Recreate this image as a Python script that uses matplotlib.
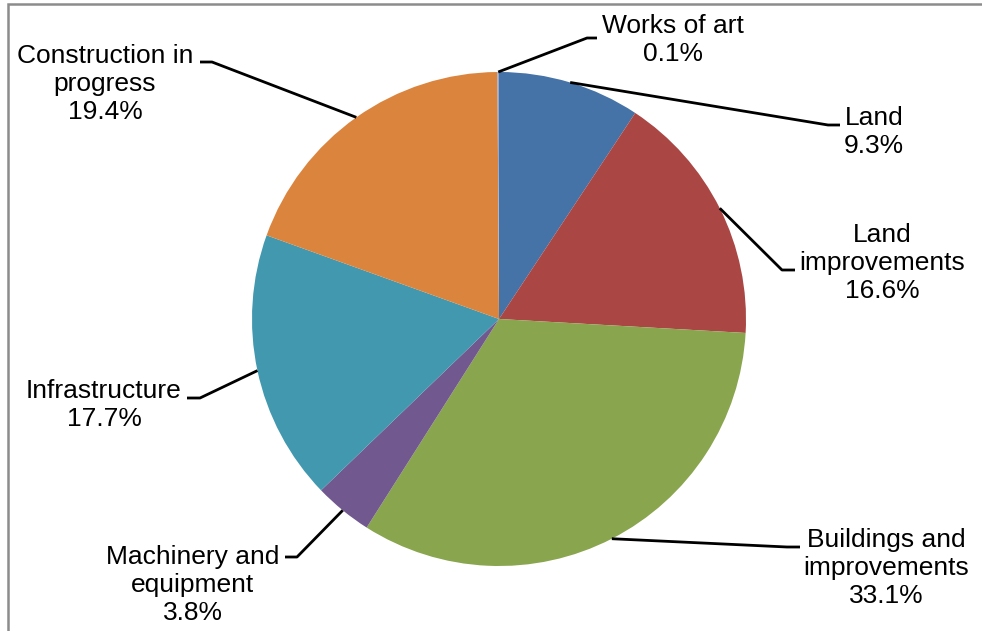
import numpy as np
import matplotlib
matplotlib.use("Agg")
import matplotlib.pyplot as plt
from matplotlib.patches import Rectangle

W, H = 982, 631

labels = ["Land", "Land\nimprovements", "Buildings and\nimprovements",
          "Machinery and\nequipment", "Infrastructure", "Construction in\nprogress",
          "Works of art"]
shares = [9.3, 16.6, 33.1, 3.8, 17.7, 19.4, 0.1]
colors = ["#4572A7", "#AA4643", "#89A54E", "#71588F", "#4198AF", "#DB843D", "#93A9CF"]

# label centres and leader elbows, pixels from the top-left corner
label_pos = [(874, 132), (882, 263), (886, 568), (193, 585), (104, 405), (105, 84), (673, 40)]
elbows = [[(828, 125), (840, 125)],
          [(782, 270), (795, 270)],
          [(787, 547), (800, 547)],
          [(297, 557), (285, 557)],
          [(200, 398), (187, 398)],
          [(212, 62), (200, 62)],
          [(587, 38), (597, 38)]]

plt.rcParams['font.family'] = ['Liberation Sans', 'DejaVu Sans']

fig = plt.figure(figsize=(W / 100, H / 100), dpi=100)
ax = fig.add_axes([0, 0, 1, 1])

cx, cy, R = 499, H - 319, 247
wedges, _ = ax.pie(shares, colors=colors, startangle=90, counterclock=False,
                   radius=R, center=(cx, cy), wedgeprops=dict(linewidth=0))

for w, lab, share, (lx, ly), pts in zip(wedges, labels, shares, label_pos, elbows):
    mid = np.deg2rad((w.theta1 + w.theta2) / 2)
    xs = [cx + R * np.cos(mid)] + [p[0] for p in pts]
    ys = [cy + R * np.sin(mid)] + [H - p[1] for p in pts]
    ax.plot(xs, ys, color="black", lw=2.0, solid_capstyle="butt", zorder=3)
    ax.text(lx, H - ly, f"{lab}\n{share:.1f}%", ha="center", va="center",
            fontsize=19, color="black", linespacing=1.2)

ax.add_patch(Rectangle((8.5, -50), 1100, H - 3.5 + 50, fill=False,
                       edgecolor="#8c8c8c", lw=1.8, zorder=5))

ax.set_xlim(0, W)
ax.set_ylim(0, H)
ax.set_aspect("equal")
ax.axis("off")

fig.savefig("out.png", dpi=100)
